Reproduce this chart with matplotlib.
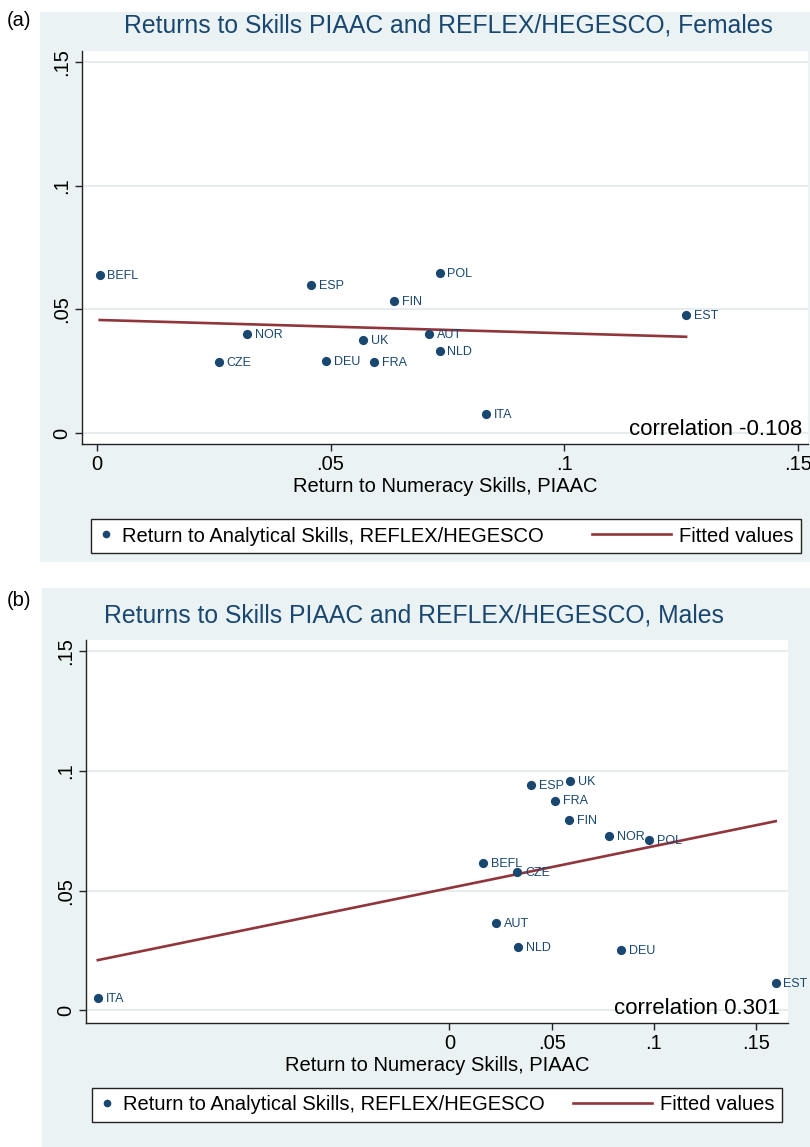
import numpy as np
import matplotlib
matplotlib.use('Agg')
import matplotlib.pyplot as plt
from matplotlib.patches import Rectangle
from matplotlib.lines import Line2D
from matplotlib.legend_handler import HandlerLine2D

plt.rcParams['font.family'] = ['Liberation Sans', 'DejaVu Sans']

# ---- data ----
fem_country = ['BEFL', 'ESP', 'FIN', 'POL', 'NOR', 'UK', 'AUT', 'NLD', 'CZE', 'DEU', 'FRA', 'ITA', 'EST']
fem_numeracy = [0.0006, 0.0458, 0.0636, 0.0734, 0.0321, 0.0570, 0.0711, 0.0734, 0.0261, 0.0490, 0.0593, 0.0833, 0.1261]
fem_analytical = [0.0639, 0.0598, 0.0534, 0.0647, 0.0400, 0.0376, 0.0400, 0.0331, 0.0287, 0.0291, 0.0287, 0.0077, 0.0477]
fem_fit = (0.0457, -0.054)   # intercept, slope of fitted line
fem_corr = 'correlation -0.108'

male_country = ['ESP', 'UK', 'FRA', 'FIN', 'NOR', 'POL', 'BEFL', 'CZE', 'AUT', 'NLD', 'DEU', 'EST', 'ITA']
male_numeracy = [0.0399, 0.0590, 0.0518, 0.0584, 0.0782, 0.0976, 0.0166, 0.0332, 0.0230, 0.0336, 0.0841, 0.1595, -0.1718]
male_analytical = [0.0941, 0.0957, 0.0876, 0.0796, 0.0727, 0.0710, 0.0614, 0.0577, 0.0365, 0.0264, 0.0251, 0.0114, 0.0051]
male_fit = (0.0511, 0.1753)
male_corr = 'correlation 0.301'

ticks = [0, 0.05, 0.1, 0.15]
tick_labels = ['0', '.05', '.1', '.15']

navy = '#1a476f'
maroon = '#90353b'
bg = '#eaf2f3'
grid = '#e3eaec'

W, H = 810, 1147


def fx(px):
    return px / W


def fy(py):
    return 1 - py / H


class LongLine(HandlerLine2D):
    # legend line that reaches back to the left of its handle box
    def get_xdata(self, legend, xdescent, ydescent, width, height, fontsize):
        xd = np.array([-xdescent - 3.9 * width, -xdescent + width])
        return xd, xd


fig = plt.figure(figsize=(W / 100, H / 100), dpi=100, facecolor='white')


def panel(box, bgbox, tag, tagpos, title, titlepos, country, xv, yv, fit, corr,
          corrpos, xlim, ylim, legbox):
    x0, y0, x1, y1 = bgbox
    fig.patches.append(Rectangle((fx(x0), fy(y1)), (x1 - x0) / W, (y1 - y0) / H,
                                 transform=fig.transFigure, facecolor=bg,
                                 edgecolor='none', zorder=-1))
    fig.text(fx(tagpos[0]), fy(tagpos[1]), tag, fontsize=14.5, ha='center', va='center')
    fig.text(fx(titlepos[0]), fy(titlepos[1]), title, fontsize=17.8, color=navy,
             ha='center', va='center')

    l, t, r, b = box
    ax = fig.add_axes([fx(l), fy(b), (r - l) / W, (b - t) / H])
    ax.set_facecolor('white')
    ax.set_xlim(xlim)
    ax.set_ylim(ylim)
    ax.set_yticks(ticks)
    ax.set_yticklabels(tick_labels, rotation=90, va='center')
    ax.set_xticks(ticks)
    ax.set_xticklabels(tick_labels)
    ax.tick_params(labelsize=14.5, length=5, width=1, pad=3, color='#222222')
    for s in ['top', 'right']:
        ax.spines[s].set_visible(False)
    for s in ['left', 'bottom']:
        ax.spines[s].set_color('#222222')
        ax.spines[s].set_linewidth(1)
    ax.yaxis.grid(True, color=grid, lw=1.2)
    ax.set_axisbelow(True)

    ax.scatter(xv, yv, s=44, color=navy, zorder=3, linewidths=0)
    for c, xx, yy in zip(country, xv, yv):
        ax.annotate(c, (xx, yy), xytext=(5.5, -0.5), textcoords='offset points',
                    fontsize=9, color=navy, ha='left', va='center', zorder=4)

    xs = np.array([min(xv), max(xv)])
    ax.plot(xs, fit[0] + fit[1] * xs, color=maroon, lw=1.9, zorder=2)

    ax.text(corrpos[0], corrpos[1], corr, transform=ax.transAxes, fontsize=16,
            ha='right', va='center', zorder=5)
    ax.set_xlabel('Return to Numeracy Skills, PIAAC', fontsize=14.5, labelpad=2)

    h1 = Line2D([], [], ls='none', marker='o', markersize=4.5, color=navy)
    h2 = Line2D([], [], color=maroon, lw=1.9)
    lx0, ly0, lx1, ly1 = legbox
    leg = fig.legend([h1, h2], ['Return to Analytical Skills, REFLEX/HEGESCO', 'Fitted values'],
                     ncol=2, mode='expand', loc='center', borderaxespad=0,
                     bbox_to_anchor=(fx(lx0), fy(ly1), (lx1 - lx0) / W, (ly1 - ly0) / H),
                     fontsize=14.5, handlelength=0.8, handletextpad=0.4,
                     borderpad=0.35, fancybox=False, framealpha=1,
                     edgecolor='#222222', handler_map={h2: LongLine()})
    leg.get_frame().set_linewidth(1)
    return ax


panel((82, 51, 808, 444), (40, 12, 810, 562), '(a)', (19, 20),
      'Returns to Skills PIAAC and REFLEX/HEGESCO, Females', (448, 25),
      fem_country, fem_numeracy, fem_analytical, fem_fit, fem_corr,
      (0.992, 0.036), (-0.0032, 0.1522), (-0.00445, 0.1544), (91, 517, 801, 555))

panel((86, 640, 788, 1023), (42, 588, 810, 1147), '(b)', (19, 601),
      'Returns to Skills PIAAC and REFLEX/HEGESCO, Males', (414, 615),
      male_country, male_numeracy, male_analytical, male_fit, male_corr,
      (0.989, 0.038), (-0.1776, 0.1655), (-0.0053, 0.1548), (92, 1087, 782, 1123))

fig.savefig('out.png', dpi=100, facecolor='white')
